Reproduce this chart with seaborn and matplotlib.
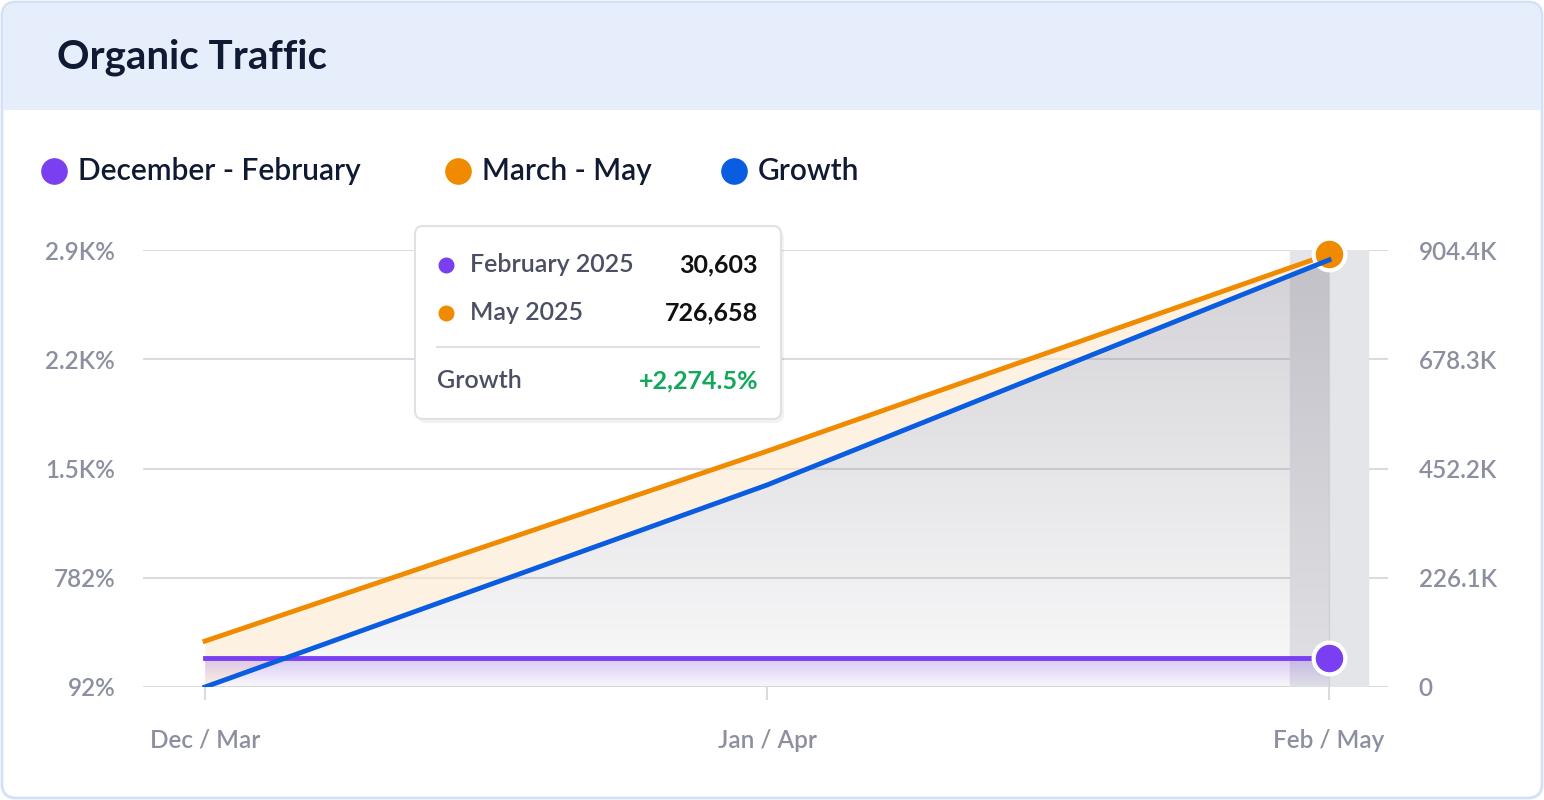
import matplotlib
matplotlib.use("Agg")
import matplotlib.pyplot as plt
import numpy as np
import pandas as pd
import seaborn as sns
from matplotlib.patches import FancyBboxPatch, Rectangle
from matplotlib.path import Path as MPath
from matplotlib.patches import PathPatch

# donnees
periods = ["Dec / Mar", "Jan / Apr", "Feb / May"]
dec_feb = [60000, 60000, 60000]          # axe droit
mar_may = [95000, 488000, 896000]        # axe droit
growth = [92, 1390, 2836]                # axe gauche (%)
left_ticks = [92, 794, 1496, 2198, 2900]
left_labels = ["92%", "782%", "1.5K%", "2.2K%", "2.9K%"]
right_ticks = [0, 226100, 452200, 678300, 904400]
right_labels = ["0", "226.1K", "452.2K", "678.3K", "904.4K"]

PURPLE = "#7b3ff2"
ORANGE = "#f08a00"
BLUE = "#0a5ce0"
GREY_TXT = "#8b8fa0"
FONT = "Lato"

W, H = 1544, 800
fig = plt.figure(figsize=(W / 100, H / 100), dpi=100)
fig.patch.set_facecolor("white")

def fx(px):
    return px / W

def fy(py):
    return 1 - py / H

# carte et bandeau
bg = fig.add_axes([0, 0, 1, 1])
bg.set_xlim(0, W)
bg.set_ylim(H, 0)
bg.axis("off")
bg.add_patch(FancyBboxPatch((2, 2), W - 4, H - 4, boxstyle="round,pad=0,rounding_size=14",
                            fc="white", ec="#d3e0f5", lw=2))
bg.add_patch(FancyBboxPatch((3, 3), W - 6, 107, boxstyle="round,pad=0,rounding_size=13",
                            fc="#e6eefb", ec="none"))
bg.add_patch(Rectangle((3, 60), W - 6, 50, fc="#e6eefb", ec="none"))
bg.text(57, 57, "Organic Traffic", fontsize=29, fontweight="bold", color="#111a33",
        va="center", family=FONT)

# legende
legend_items = [("December - February", PURPLE, 54), ("March - May", ORANGE, 458), ("Growth", BLUE, 734)]
for label, color, x0 in legend_items:
    bg.scatter([x0], [171], s=330, color=color, zorder=3)
    bg.text(x0 + 24, 171, label, fontsize=21.5, fontweight="semibold", color="#111a33",
            va="center", family=FONT)

x = np.arange(len(periods))
df = pd.DataFrame({"x": x, "dec_feb": dec_feb, "mar_may": mar_may, "growth": growth})

axL = fig.add_axes([fx(143), fy(687), fx(1388 - 143), 437 / H])
axL.set_xlim(-62 / 562, 2 + 59 / 562)
axL.set_ylim(92, 2900)
axR = axL.twinx()
axR.set_ylim(0, 904400)
for ax in (axL, axR):
    ax.patch.set_visible(False)
    for s in ax.spines.values():
        s.set_visible(False)

for t in right_ticks:
    axR.axhline(t, color="#d9dbe0", lw=1.5, zorder=0)

# bande de survol
axR.axvspan(2 - 39 / 562, 2 + 39 / 562, color="#e4e5e9", zorder=0.5)
axR.axvline(2, color="#cfd1d6", lw=1, zorder=0.6)

# croissance en coordonnees de l'axe droit pour les remplissages
g_r = (np.array(growth) - 92) / (2900 - 92) * 904400
xf = np.linspace(0, 2, 200)
g_f = np.interp(xf, x, g_r)
o_f = np.interp(xf, x, mar_may)
p_f = np.interp(xf, x, dec_feb)

def gradient_fill(ax, top, bottom, c_top, c_bot, z):
    verts = np.vstack([np.column_stack([xf, top]), np.column_stack([xf[::-1], bottom[::-1]])])
    clip = PathPatch(MPath(verts), transform=ax.transData, fc="none", ec="none")
    ax.add_patch(clip)
    grad = np.linspace(0, 1, 256).reshape(-1, 1)
    cmap = matplotlib.colors.LinearSegmentedColormap.from_list("g", [c_bot, c_top])
    im = ax.imshow(grad, extent=[0, 2, 0, top.max()], origin="lower", aspect="auto",
                   cmap=cmap, zorder=z)
    im.set_clip_path(clip)

gradient_fill(axR, g_f, np.zeros_like(xf), (0.55, 0.53, 0.58, 0.38), (0.55, 0.53, 0.58, 0.05), 1)
axR.fill_between(xf, g_f, o_f, color="#fde9cf", alpha=0.6, lw=0, zorder=1.2)
gradient_fill(axR, p_f, np.zeros_like(xf), (0.48, 0.25, 0.95, 0.25), (0.48, 0.25, 0.95, 0.0), 1.3)
axR.set_xlim(-62 / 562, 2 + 59 / 562)
axR.set_ylim(0, 904400)

sns.lineplot(data=df, x="x", y="mar_may", ax=axR, color=ORANGE, lw=3.5, zorder=4)
sns.lineplot(data=df, x="x", y="growth", ax=axL, color=BLUE, lw=3.5, zorder=5)
sns.lineplot(data=df, x="x", y="dec_feb", ax=axR, color=PURPLE, lw=3.5, zorder=4)
axL.set_zorder(axR.get_zorder() + 1)
axR.scatter([2], [mar_may[-1]], s=520, color=ORANGE, edgecolor="white", lw=3, zorder=6, clip_on=False)
axR.scatter([2], [dec_feb[-1]], s=520, color=PURPLE, edgecolor="white", lw=3, zorder=6, clip_on=False)

axL.set_yticks(left_ticks, left_labels)
axR.set_yticks(right_ticks, right_labels)
axL.set_xticks(x, periods)
axL.set_xlabel("")
axL.set_ylabel("")
axR.set_ylabel("")
axR.set_xlabel("")
for ax in (axL, axR):
    ax.tick_params(length=0, labelsize=17.5, labelcolor=GREY_TXT)
    for lab in ax.get_yticklabels() + ax.get_xticklabels():
        lab.set_family(FONT)
        lab.set_fontweight("semibold")
axL.tick_params(axis="y", pad=20)
axR.tick_params(axis="y", pad=22)
axL.tick_params(axis="x", pad=30)
for xi in x:
    axL.plot([xi, xi], [92, 92 - 80], color="#d9dbe0", lw=1.5, clip_on=False, zorder=0)

# infobulle
tip = fig.add_axes([0, 0, 1, 1])
tip.set_xlim(0, W)
tip.set_ylim(H, 0)
tip.axis("off")
tip.add_patch(FancyBboxPatch((418, 230), 366, 193, boxstyle="round,pad=0,rounding_size=8",
                             fc="#000000", alpha=0.05, ec="none"))
tip.add_patch(FancyBboxPatch((415, 226), 366, 193, boxstyle="round,pad=0,rounding_size=8",
                             fc="white", ec="#dfe1e6", lw=1.5))
tip.scatter([446], [265], s=110, color=PURPLE)
tip.scatter([446], [313], s=110, color=ORANGE)
tip.text(470, 265, "February 2025", fontsize=18, fontweight="semibold", color="#4a4f63", va="center", family=FONT)
tip.text(470, 313, "May 2025", fontsize=18, fontweight="semibold", color="#4a4f63", va="center", family=FONT)
tip.text(758, 265, "30,603", fontsize=18, color="#111", va="center", ha="right", fontweight="bold", family=FONT)
tip.text(758, 313, "726,658", fontsize=18, color="#111", va="center", ha="right", fontweight="bold", family=FONT)
tip.plot([437, 759], [347, 347], color="#dfe1e6", lw=1.5)
tip.text(437, 381, "Growth", fontsize=18, fontweight="semibold", color="#4a4f63", va="center", family=FONT)
tip.text(758, 381, "+2,274.5%", fontsize=18, color="#11a85a", va="center", ha="right", fontweight="bold", family=FONT)

fig.savefig("out.png", dpi=100)
